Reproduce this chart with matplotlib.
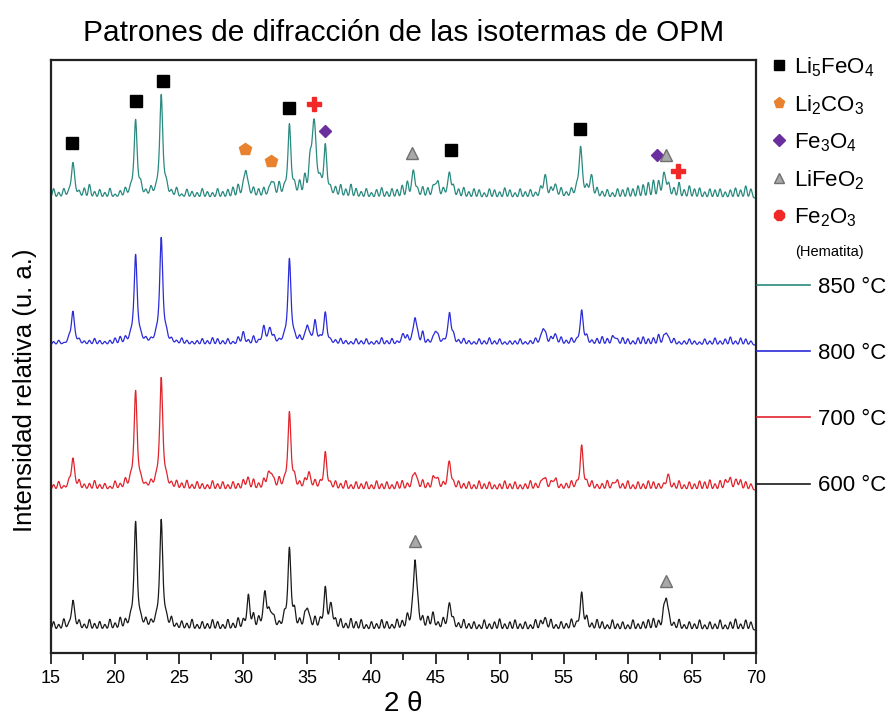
import numpy as np
import matplotlib
matplotlib.use("Agg")
import matplotlib.pyplot as plt
from matplotlib.lines import Line2D
from matplotlib.ticker import MultipleLocator

plt.rcParams["font.family"] = ["Liberation Sans", "DejaVu Sans"]
plt.rcParams["mathtext.default"] = "regular"

# peak positions (2 theta) and heights (px above each trace's baseline)
t600_base = 23
t600_pos = [16.7, 21.6, 23.6, 30.4, 31.7, 32.2, 33.6, 35.0, 36.4, 36.9, 43.4, 44.8, 46.1, 53.5, 56.4, 63.0]
t600_h = [26, 98, 102, 25, 34, 12, 76, 19, 32, 14, 68, 9, 24, 8, 30, 30]
# background wiggle read every 0.4 deg from 15.2 to 69.6
t600_bg = [8, 5, 10, 3, 6, 8, 5, 10, 6, 8,
           5, 10, 6, 11, 8, 6, 10, 5, 8, 6,
           5, 8, 6, 10, 5, 8, 6, 10, 5, 8,
           6, 10, 8, 5, 10, 6, 11, 8, 10, 13,
           10, 6, 11, 8, 5, 10, 6, 14, 8, 10,
           6, 11, 8, 10, 13, 8, 10, 6, 11, 8,
           10, 5, 8, 6, 10, 8, 5, 10, 8, 13,
           8, 14, 10, 11, 8, 6, 10, 5, 8, 6,
           10, 6, 8, 5, 10, 6, 8, 11, 6, 8,
           10, 6, 8, 5, 10, 8, 6, 10, 5, 8,
           6, 10, 5, 8, 11, 6, 10, 8, 5, 10,
           6, 8, 5, 10, 6, 8, 10, 11, 8, 14,
           8, 6, 10, 5, 8, 6, 10, 5, 8, 6,
           10, 5, 8, 11, 6, 10, 8]

t700_base = 163
t700_pos = [16.7, 21.6, 23.6, 30.3, 31.9, 32.2, 33.6, 35.1, 36.4, 43.4, 45.0, 46.1, 53.4, 54.2, 56.4, 59.0, 63.1, 67.8, 68.5]
t700_h = [29, 91, 104, 6, 8, 13, 70, 14, 29, 16, 10, 23, 10, 7, 36, 6, 10, 6, 6]
t700_bg = [5, 8, 3, 6, 5, 8, 5, 6, 9, 5,
           6, 3, 8, 5, 9, 6, 8, 5, 3, 6,
           5, 8, 6, 5, 8, 6, 9, 5, 8, 6,
           5, 9, 6, 8, 5, 8, 6, 9, 8, 10,
           6, 9, 8, 6, 10, 5, 8, 9, 6, 8,
           5, 8, 6, 9, 5, 8, 6, 9, 5, 8,
           6, 8, 5, 9, 6, 8, 5, 8, 9, 6,
           8, 5, 9, 6, 10, 8, 6, 9, 5, 8,
           6, 8, 5, 9, 6, 8, 5, 6, 9, 6,
           8, 5, 6, 9, 6, 5, 8, 6, 9, 5,
           6, 8, 5, 9, 6, 8, 5, 6, 9, 5,
           8, 6, 9, 5, 8, 6, 9, 8, 6, 5,
           8, 6, 9, 5, 8, 6, 9, 8, 10, 6,
           9, 8, 10, 6, 9, 8, 6]

t800_base = 308
t800_pos = [16.7, 21.6, 23.6, 30.0, 31.6, 32.1, 33.6, 35.0, 35.6, 36.4, 42.5, 43.4, 45.0, 46.1, 53.4, 54.3, 56.4, 59.0, 63.0]
t800_h = [32, 87, 104, 7, 14, 13, 79, 17, 19, 26, 8, 26, 12, 30, 15, 8, 31, 6, 11]
t800_bg = [3, 4, 1, 4, 3, 4, 3, 4, 6, 4,
           3, 4, 6, 7, 6, 4, 3, 4, 4, 3,
           4, 3, 6, 4, 3, 6, 4, 3, 4, 6,
           4, 7, 6, 4, 6, 3, 7, 6, 4, 8,
           3, 4, 4, 6, 3, 4, 7, 4, 6, 4,
           3, 4, 4, 6, 3, 4, 6, 4, 3, 6,
           4, 6, 3, 4, 7, 4, 6, 3, 4, 7,
           4, 6, 12, 4, 4, 6, 3, 4, 7, 4,
           6, 4, 3, 6, 4, 7, 4, 6, 3, 4,
           4, 6, 3, 4, 6, 4, 7, 6, 4, 7,
           4, 6, 3, 4, 7, 4, 6, 8, 6, 7,
           4, 7, 6, 4, 7, 8, 6, 7, 10, 6,
           4, 6, 3, 4, 6, 4, 3, 6, 4, 7,
           4, 6, 8, 4, 7, 6, 4]

t850_base = 455
t850_pos = [16.7, 21.6, 23.6, 30.2, 32.2, 33.6, 35.5, 36.4, 43.3, 45.0, 46.1, 53.5, 54.3, 56.3, 57.1, 62.9]
t850_h = [32, 72, 97, 26, 14, 64, 72, 40, 22, 12, 22, 14, 9, 46, 12, 16]
t850_wide = [35.5, 62.9]
t850_bg = [9, 5, 8, 3, 6, 5, 9, 13, 6, 8,
           5, 9, 3, 6, 8, 5, 6, 9, 5, 8,
           3, 6, 8, 5, 9, 3, 8, 6, 5, 9,
           6, 5, 9, 6, 8, 10, 12, 8, 6, 9,
           8, 9, 5, 9, 13, 6, 9, 8, 13, 17,
           20, 9, 8, 10, 6, 9, 12, 8, 13, 9,
           6, 9, 5, 8, 10, 6, 9, 8, 12, 15,
           9, 6, 10, 9, 8, 12, 8, 6, 9, 8,
           10, 6, 9, 8, 5, 9, 8, 6, 10, 8,
           5, 9, 6, 8, 5, 9, 12, 8, 6, 9,
           5, 8, 6, 9, 8, 13, 9, 6, 8, 5,
           9, 8, 10, 9, 12, 13, 15, 17, 15, 12,
           10, 9, 15, 8, 12, 9, 10, 6, 9, 8,
           9, 6, 8, 10, 8, 12, 9]

# phase markers: 2 theta and height (px above bottom)
li5_x = [16.6, 21.6, 23.7, 33.6, 46.2, 56.3]
li5_y = [510, 552, 572, 545, 503, 524]
li2co3_x = [30.1, 32.2]
li2co3_y = [504, 492]
fe3o4_x = [36.4, 62.3]
fe3o4_y = [522, 498]
lifeo2_x = [43.2, 63.0, 43.4, 63.0]
lifeo2_y = [500, 498, 112, 72]
fe2o3_x = [35.5, 63.9]
fe2o3_y = [549, 482]

temps = ["850 °C", "800 °C", "700 °C", "600 °C"]
colors = ["#2a8a80", "#2b2bd8", "#e0242c", "#1a1a1a"]


def build_trace(x, base, pos, h, bg, wide=()):
    y = np.full_like(x, float(base))
    for p, a in zip(pos, h):
        w = 0.22 if any(abs(p - q) < 1e-6 for q in wide) else 0.15
        y += a * w ** 2 / ((x - p) ** 2 + w ** 2)
    bg_pos = np.linspace(15.2, 69.6, len(bg))
    for p, a in zip(bg_pos, bg):
        y += a * np.exp(-0.5 * ((x - p) / 0.09) ** 2)
    return y


x = np.arange(15, 70.001, 0.025)
traces = [
    build_trace(x, t850_base, t850_pos, t850_h, t850_bg, wide=t850_wide),
    build_trace(x, t800_base, t800_pos, t800_h, t800_bg),
    build_trace(x, t700_base, t700_pos, t700_h, t700_bg),
    build_trace(x, t600_base, t600_pos, t600_h, t600_bg),
]

fig = plt.figure(figsize=(8.91, 7.24), dpi=100)
ax = fig.add_axes([51 / 891, 71 / 724, 705 / 891, 593 / 724])

line_handles = []
for y, c, lab in zip(traces, colors, temps):
    (ln,) = ax.plot(x, y, color=c, lw=0.9, label=lab)
    line_handles.append(ln)

ax.plot(li5_x, li5_y, ls="none", marker="s", ms=8.5, color="black")
ax.plot(li2co3_x, li2co3_y, ls="none", marker="p", ms=9, color="#e8822e")
ax.plot(fe3o4_x, fe3o4_y, ls="none", marker="D", ms=6.5, color="#6a2e9e")
ax.plot(lifeo2_x, lifeo2_y, ls="none", marker="^", ms=8.5, color="#a8a8a8", mec="#707070", mew=1)
ax.plot(fe2o3_x, fe2o3_y, ls="none", marker="P", ms=10, color="#f02828")

ax.set_xlim(15, 70)
ax.set_ylim(0, 593)
ax.set_yticks([])
ax.xaxis.set_major_locator(MultipleLocator(5))
ax.xaxis.set_minor_locator(MultipleLocator(2.5))
ax.tick_params(axis="x", which="major", length=8, width=1.3, pad=4, color="#222222")
ax.tick_params(axis="x", which="minor", length=5, width=1.3, color="#222222")
for lab in ax.get_xticklabels():
    lab.set_fontsize(13)
for sp in ax.spines.values():
    sp.set_linewidth(1.6)
    sp.set_color("#222222")

ax.set_title("Patrones de difracción de las isotermas de OPM", fontsize=21.5, pad=14)
ax.set_xlabel("2 θ", fontsize=20, labelpad=3)
ax.set_ylabel("Intensidad relativa (u. a.)", fontsize=18.5)
ax.yaxis.set_label_coords(-0.02, 0.4435)

phase_handles = [
    Line2D([], [], ls="none", marker="s", ms=7, color="black"),
    Line2D([], [], ls="none", marker="p", ms=8, color="#e8822e"),
    Line2D([], [], ls="none", marker="D", ms=6, color="#6a2e9e"),
    Line2D([], [], ls="none", marker="^", ms=7, color="#a8a8a8", mec="#707070", mew=1),
    Line2D([], [], ls="none", marker="8", ms=8, color="#f02828"),
]
phase_labels = ["Li$_5$FeO$_4$", "Li$_2$CO$_3$", "Fe$_3$O$_4$", "LiFeO$_2$", "Fe$_2$O$_3$"]
leg1 = fig.legend(phase_handles, phase_labels, loc="upper left", bbox_to_anchor=(770 / 891, 1 - 55 / 724),
                  frameon=False, fontsize=16, handlelength=0.8, handletextpad=0.3, borderpad=0,
                  borderaxespad=0, labelspacing=0.65)
fig.text(795 / 891, 1 - 252 / 724, "(Hematita)", fontsize=10.5, va="center", ha="left")

leg2 = fig.legend(line_handles, temps, loc="upper left", bbox_to_anchor=(757 / 891, 1 - 277 / 724),
                  frameon=False, fontsize=16, handlelength=2.4, handletextpad=0.35, borderpad=0,
                  borderaxespad=0, labelspacing=2.03)
for h in leg2.legend_handles:
    h.set_linewidth(1.2)

fig.savefig("out.png", dpi=100)
